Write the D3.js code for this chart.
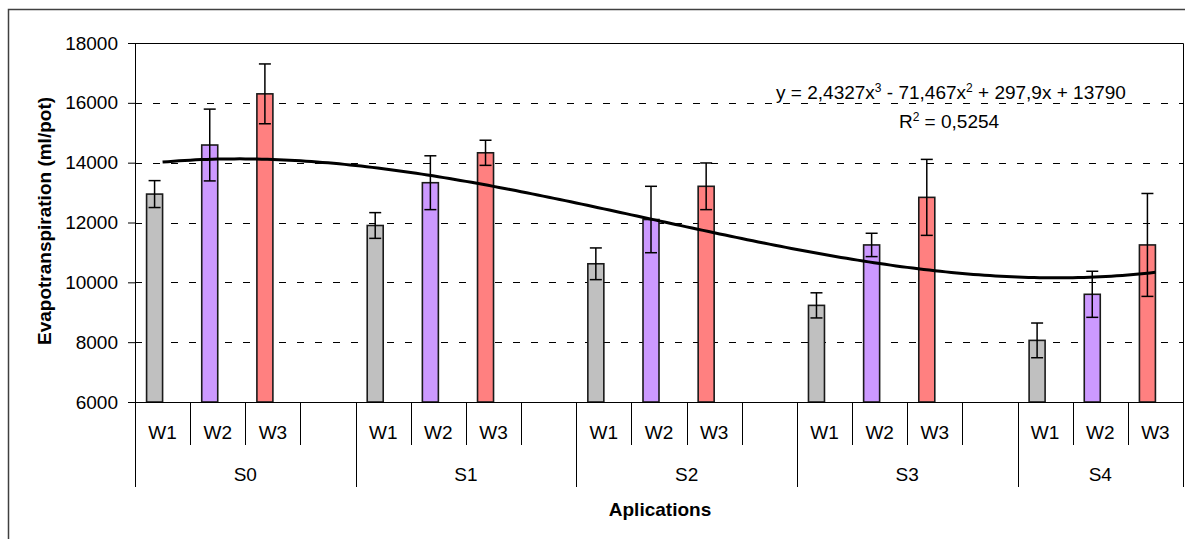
<!DOCTYPE html>
<html>
<head>
<meta charset="utf-8">
<script src="https://cdn.jsdelivr.net/npm/d3@7"></script>
<style>
	body { margin: 0; background: #fff; }
	text { font-family: Arial, "Liberation Sans", sans-serif; fill: #000; }
</style>
</head>
<body>
<svg id="chart" width="1185" height="539"></svg>
<script>
// groups on the lower axis row, treatments on the upper row
var groups = ["S0", "S1", "S2", "S3", "S4"];
var treatments = ["W1", "W2", "W3"];
var treatmentColors = ["#C0C0C0", "#CC99FF", "#FF8080"];

// mean evapotranspiration (ml/pot), one value per group
var w1Means = [12950, 11900, 10620, 9230, 8060];
var w2Means = [14590, 13330, 12100, 11250, 9600];
var w3Means = [16300, 14330, 13210, 12840, 11250];

// error bar half widths
var w1Errors = [450, 430, 530, 420, 580];
var w2Errors = [1200, 900, 1110, 390, 770];
var w3Errors = [1000, 420, 780, 1270, 1720];

// polynomial trendline as printed on the chart: c0 + c1 x + c2 x^2 + c3 x^3
var trendCoef = [13790, 297.9, -71.467, 2.4327];
var yTicks = [6000, 8000, 10000, 12000, 14000, 16000, 18000];

var svg = d3.select("#chart");
var plotLeft = 135, plotRight = 1183, plotTop = 43, plotBottom = 402;
var fontSize = "19px";

// outer chart frame
svg.append("rect")
	.attr("x", 8.5).attr("y", 9.5)
	.attr("width", 1190).attr("height", 560)
	.attr("fill", "none")
	.attr("stroke", "#404040")
	.attr("stroke-width", 1.5);

// build category slots: W1 W2 W3 + an empty slot between groups
var slots = [];
groups.forEach(function(g, gi) {
	treatments.forEach(function(t, ti) {
		var means = [w1Means, w2Means, w3Means][ti];
		var errs = [w1Errors, w2Errors, w3Errors][ti];
		slots.push({key: g + "|" + t, group: g, label: t, value: means[gi], err: errs[gi], color: treatmentColors[ti]});
	});
	if (gi < groups.length - 1) slots.push({key: g + "|gap", group: g, label: "", value: null});
});

var x = d3.scaleBand()
	.domain(slots.map(function(d) { return d.key; }))
	.range([plotLeft, plotRight]);
var y = d3.scaleLinear().domain([6000, 18000]).range([plotBottom, plotTop]);

// two sub-bands per slot (second one empty, as in the original sheet)
var sub = d3.scaleBand().domain(["value", "empty"])
	.range([x.bandwidth() / 2 - 16, x.bandwidth() / 2 + 16]);

// gridlines
svg.append("g").selectAll("line")
	.data(yTicks.filter(function(v) { return v > 6000 && v < 18000; }))
	.enter().append("line")
	.attr("x1", plotLeft).attr("x2", plotRight)
	.attr("y1", function(d) { return Math.round(y(d)) + 0.5; })
	.attr("y2", function(d) { return Math.round(y(d)) + 0.5; })
	.attr("stroke", "#000")
	.attr("stroke-width", 1)
	.attr("stroke-dasharray", "7,11");

// plot area border (top and right)
svg.append("path")
	.attr("d", "M" + plotLeft + "," + (plotTop + 0.5) + "H" + (plotRight + 0.5) + "V" + plotBottom)
	.attr("fill", "none")
	.attr("stroke", "#000")
	.attr("stroke-width", 1);

// bars
var bars = slots.filter(function(d) { return d.value != null; });
svg.append("g").selectAll("rect")
	.data(bars)
	.enter().append("rect")
	.attr("x", function(d) { return x(d.key) + sub("value"); })
	.attr("width", sub.bandwidth())
	.attr("y", function(d) { return y(d.value); })
	.attr("height", function(d) { return y(6000) - y(d.value); })
	.attr("fill", function(d) { return d.color; })
	.attr("stroke", "#1a1a1a")
	.attr("stroke-width", 1.6);

// error bars
var eb = svg.append("g").attr("stroke", "#000").attr("stroke-width", 1.5);
bars.forEach(function(d) {
	var cx = x(d.key) + sub("value") + sub.bandwidth() / 2;
	eb.append("line").attr("x1", cx).attr("x2", cx)
		.attr("y1", y(d.value + d.err)).attr("y2", y(d.value - d.err));
	[d.value + d.err, d.value - d.err].forEach(function(v) {
		eb.append("line").attr("x1", cx - 6).attr("x2", cx + 6)
			.attr("y1", y(v)).attr("y2", y(v));
	});
});

// trendline across slot positions 1..19
var xIdx = d3.scaleLinear()
	.domain([1, slots.length])
	.range([x(slots[0].key) + x.bandwidth() / 2, x(slots[slots.length - 1].key) + x.bandwidth() / 2]);
var trendPts = d3.range(1, slots.length + 0.001, 0.1).map(function(t) {
	return [t, trendCoef[0] + trendCoef[1] * t + trendCoef[2] * t * t + trendCoef[3] * t * t * t];
});
svg.append("path")
	.datum(trendPts)
	.attr("fill", "none")
	.attr("stroke", "#000")
	.attr("stroke-width", 3)
	.attr("d", d3.line()
		.x(function(d) { return xIdx(d[0]); })
		.y(function(d) { return y(d[1]); }));

// y axis
var yAxis = svg.append("g")
	.attr("transform", "translate(" + plotLeft + ",0)")
	.call(d3.axisLeft(y).tickValues(yTicks).tickSize(7).tickPadding(10).tickFormat(d3.format("d")));
yAxis.selectAll("text").style("font-size", fontSize).style("font-family", "Arial, 'Liberation Sans', sans-serif");
yAxis.selectAll("line, path").attr("stroke", "#000");
yAxis.select(".domain").attr("d", "M0.5," + plotTop + "V" + plotBottom);

// category axis, two rows
var cat = svg.append("g").attr("stroke", "#000").attr("stroke-width", 1);
cat.append("line").attr("x1", plotLeft).attr("x2", plotRight + 1)
	.attr("y1", plotBottom + 0.5).attr("y2", plotBottom + 0.5);
slots.forEach(function(d, i) {
	var first = i === 0 || slots[i - 1].group !== d.group;
	var xs = Math.round(x(d.key)) + 0.5;
	cat.append("line").attr("x1", xs).attr("x2", xs)
		.attr("y1", plotBottom).attr("y2", first ? 487 : 445);
});
cat.append("line").attr("x1", plotRight + 0.5).attr("x2", plotRight + 0.5)
	.attr("y1", plotBottom).attr("y2", 487);

svg.append("g").selectAll("text")
	.data(bars)
	.enter().append("text")
	.attr("x", function(d) { return x(d.key) + x.bandwidth() / 2; })
	.attr("y", 439)
	.attr("text-anchor", "middle")
	.style("font-size", fontSize)
	.text(function(d) { return d.label; });

svg.append("g").selectAll("text")
	.data(groups)
	.enter().append("text")
	.attr("x", function(g) {
		var s = slots.filter(function(d) { return d.group === g; });
		var x0 = x(s[0].key), x1 = x(s[s.length - 1].key) + x.bandwidth();
		return (x0 + x1) / 2;
	})
	.attr("y", 481)
	.attr("text-anchor", "middle")
	.style("font-size", fontSize)
	.text(function(g) { return g; });

// axis titles
svg.append("text")
	.attr("transform", "translate(51,221) rotate(-90)")
	.attr("text-anchor", "middle")
	.style("font-size", fontSize)
	.style("font-weight", "bold")
	.text("Evapotranspiration (ml/pot)");

svg.append("text")
	.attr("x", 660).attr("y", 516)
	.attr("text-anchor", "middle")
	.style("font-size", fontSize)
	.style("font-weight", "bold")
	.text("Aplications");

// trendline equation
var eq = svg.append("text")
	.attr("x", 951).attr("y", 99)
	.attr("text-anchor", "middle")
	.style("font-size", fontSize);
eq.append("tspan").text("y = 2,4327x");
eq.append("tspan").attr("dy", -7).style("font-size", "12px").text("3");
eq.append("tspan").attr("dy", 7).text(" - 71,467x");
eq.append("tspan").attr("dy", -7).style("font-size", "12px").text("2");
eq.append("tspan").attr("dy", 7).text(" + 297,9x + 13790");

var r2 = svg.append("text")
	.attr("x", 949).attr("y", 128)
	.attr("text-anchor", "middle")
	.style("font-size", fontSize);
r2.append("tspan").text("R");
r2.append("tspan").attr("dy", -7).style("font-size", "12px").text("2");
r2.append("tspan").attr("dy", 7).text(" = 0,5254");
</script>
</body>
</html>
